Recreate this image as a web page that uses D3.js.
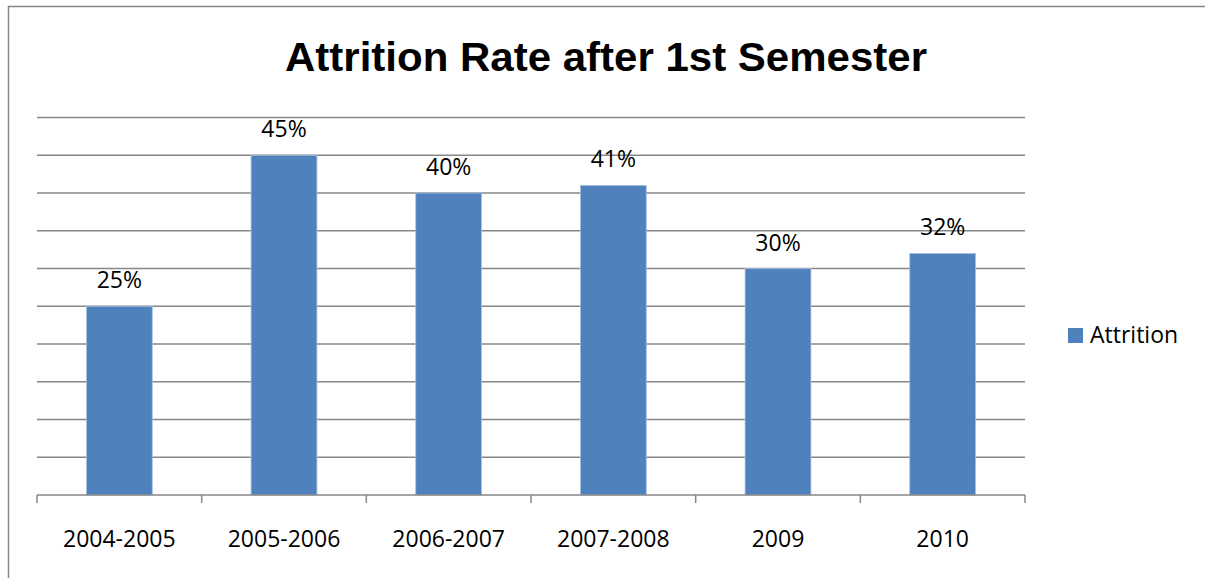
<!DOCTYPE html>
<html>
<head>
<meta charset="utf-8">
<script src="https://cdn.jsdelivr.net/npm/d3@7"></script>
<style>
  html, body { margin: 0; padding: 0; background: #fff; overflow: hidden; }
  svg { display: block; }
</style>
</head>
<body>
<svg id="chart" width="1205" height="578"></svg>
<script>
const categories = ["2004-2005", "2005-2006", "2006-2007", "2007-2008", "2009", "2010"];
const attrition = [0.25, 0.45, 0.40, 0.41, 0.30, 0.32];
const valueLabels = ["25%", "45%", "40%", "41%", "30%", "32%"];
const gridTicks = [0.05, 0.10, 0.15, 0.20, 0.25, 0.30, 0.35, 0.40, 0.45, 0.50];
const seriesName = "Attrition";
const titleText = "Attrition Rate after 1st Semester";

const svg = d3.select("#chart");
const font = "'Open Sans', 'DejaVu Sans', sans-serif";
const gridColor = "#878787";
const barColor = "#4F81BD";

// frame
svg.append("rect")
  .attr("x", 8.5).attr("y", 6.5)
  .attr("width", 1400).attr("height", 800)
  .attr("fill", "#fff").attr("stroke", "#878787").attr("stroke-width", 1.5);

const x = d3.scaleBand().domain(categories).range([37, 1025]).padding(0);
const y = d3.scaleLinear().domain([0, 0.5]).range([495, 117.5]);

// gridlines
svg.append("g").selectAll("line").data(gridTicks).join("line")
  .attr("x1", x.range()[0]).attr("x2", x.range()[1])
  .attr("y1", d => y(d)).attr("y2", d => y(d))
  .attr("stroke", gridColor).attr("stroke-width", 1.4);

// bars
const barW = x.bandwidth() * 0.4;
svg.append("g").selectAll("rect").data(attrition).join("rect")
  .attr("x", (d, i) => x(categories[i]) + (x.bandwidth() - barW) / 2)
  .attr("y", d => y(d))
  .attr("width", barW)
  .attr("height", d => y(0) - y(d))
  .attr("fill", barColor)
  .attr("stroke", "#a9c1e0").attr("stroke-width", 0.8);

// x axis line & ticks
const axis = svg.append("g");
axis.append("line")
  .attr("x1", x.range()[0]).attr("x2", x.range()[1])
  .attr("y1", y(0)).attr("y2", y(0))
  .attr("stroke", gridColor).attr("stroke-width", 1.5);
const tickPos = categories.map(c => x(c)).concat([x.range()[1]]);
axis.selectAll("line.tick").data(tickPos).join("line")
  .attr("class", "tick")
  .attr("x1", d => d).attr("x2", d => d)
  .attr("y1", y(0)).attr("y2", y(0) + 8)
  .attr("stroke", gridColor).attr("stroke-width", 1.5);

// category labels
svg.append("g").selectAll("text").data(categories).join("text")
  .attr("x", d => x(d) + x.bandwidth() / 2)
  .attr("y", 547)
  .attr("text-anchor", "middle")
  .attr("font-family", font).attr("font-size", 23)
  .attr("fill", "#000")
  .text(d => d);

// value labels
svg.append("g").selectAll("text").data(attrition).join("text")
  .attr("x", (d, i) => x(categories[i]) + x.bandwidth() / 2)
  .attr("y", d => y(d) - 18)
  .attr("text-anchor", "middle")
  .attr("font-family", font).attr("font-size", 23)
  .attr("fill", "#000")
  .text((d, i) => valueLabels[i]);

// title
svg.append("text")
  .attr("x", 285).attr("y", 71)
  .attr("font-family", "'Liberation Sans', Arial, sans-serif")
  .attr("font-weight", "bold").attr("font-size", 40.5)
  .attr("textLength", 642).attr("lengthAdjust", "spacingAndGlyphs")
  .attr("fill", "#000")
  .text(titleText);

// legend
const legend = svg.append("g");
legend.append("rect")
  .attr("x", 1068).attr("y", 328).attr("width", 15).attr("height", 15)
  .attr("fill", barColor);
legend.append("text")
  .attr("x", 1090).attr("y", 343)
  .attr("font-family", font).attr("font-size", 23)
  .attr("fill", "#000")
  .text(seriesName);
</script>
</body>
</html>
